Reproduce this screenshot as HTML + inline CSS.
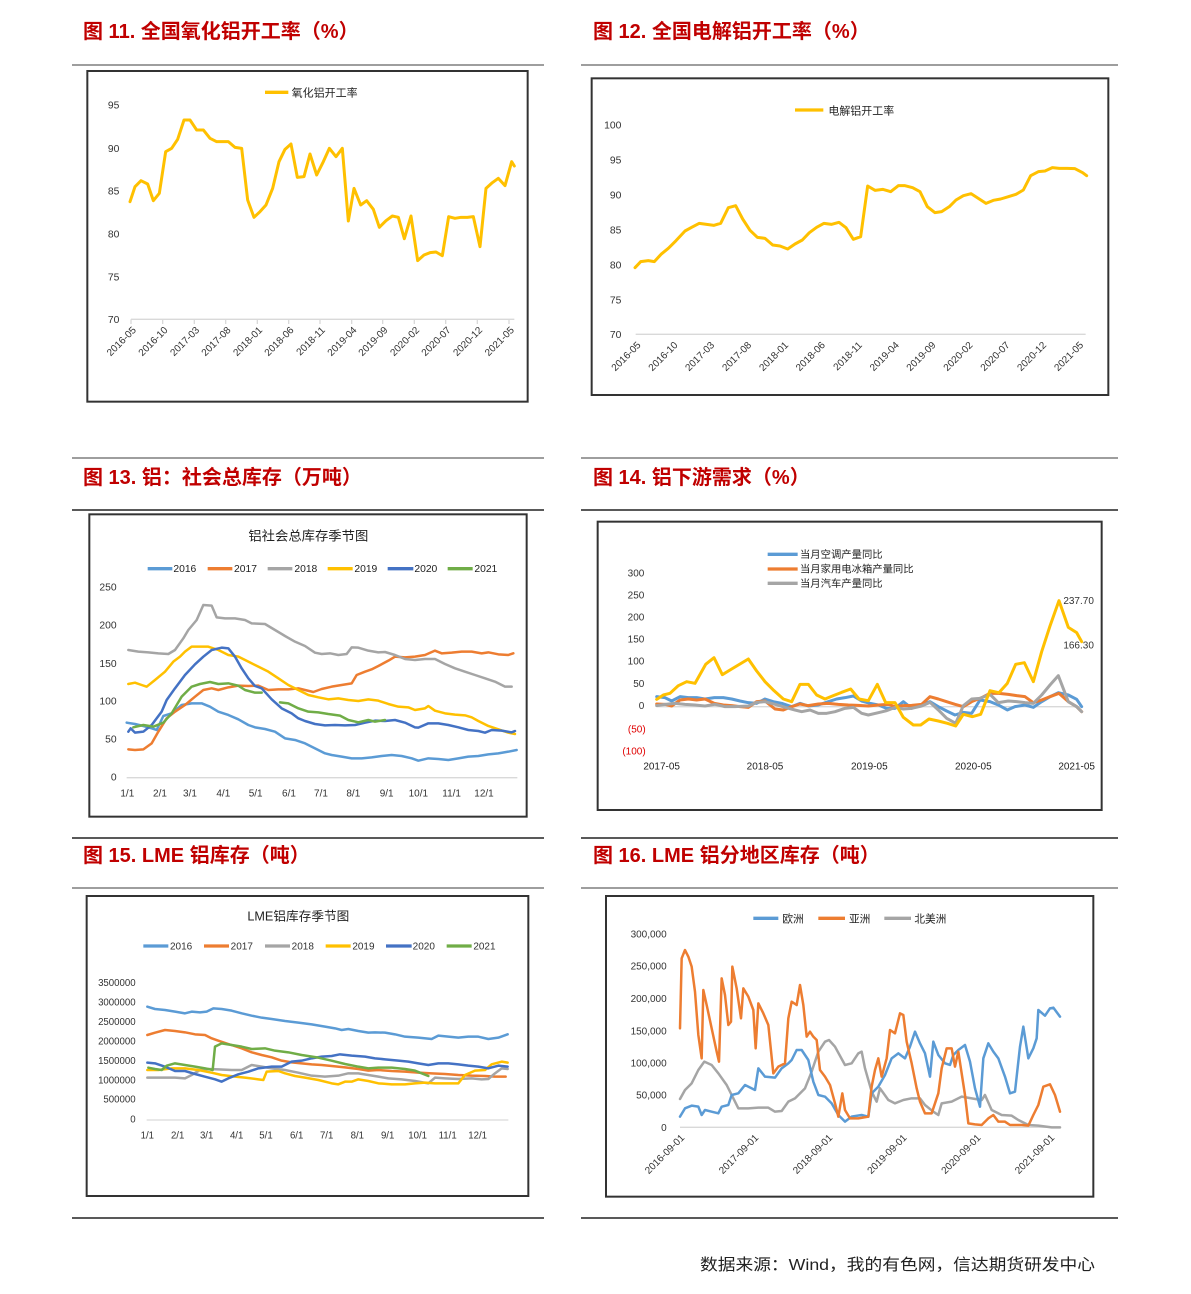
<!DOCTYPE html>
<html><head><meta charset="utf-8">
<style>
html,body{margin:0;padding:0;background:#fff;}
svg{display:block;}
.t{font-family:"Liberation Sans","Noto Sans CJK SC",sans-serif;font-weight:bold;fill:#c00000;font-size:20px;}
.n{font-family:"Liberation Sans","Noto Sans CJK SC",sans-serif;fill:#333;}
.c{font-family:"Liberation Sans","Noto Sans CJK SC",sans-serif;fill:#222;}
polyline{fill:none;stroke-linejoin:round;stroke-linecap:round;}
.s{vector-effect:non-scaling-stroke;}
</style></head>
<body>
<svg width="1191" height="1294" viewBox="0 0 1191 1294" xmlns="http://www.w3.org/2000/svg">
<!-- rules -->
<g stroke-width="1.5">
<line x1="72" y1="65" x2="544" y2="65" stroke="#7f7f7f"/>
<line x1="581" y1="65" x2="1118" y2="65" stroke="#7f7f7f"/>
<line x1="72" y1="458" x2="544" y2="458" stroke="#7f7f7f"/>
<line x1="581" y1="458" x2="1118" y2="458" stroke="#7f7f7f"/>
<line x1="72" y1="510" x2="544" y2="510" stroke="#222"/>
<line x1="581" y1="510" x2="1118" y2="510" stroke="#222"/>
<line x1="72" y1="838" x2="544" y2="838" stroke="#222"/>
<line x1="581" y1="838" x2="1118" y2="838" stroke="#222"/>
<line x1="72" y1="888" x2="544" y2="888" stroke="#7f7f7f"/>
<line x1="581" y1="888" x2="1118" y2="888" stroke="#7f7f7f"/>
<line x1="72" y1="1218" x2="544" y2="1218" stroke="#222"/>
<line x1="581" y1="1218" x2="1118" y2="1218" stroke="#222"/>
</g>
<!-- titles -->
<text class="t" x="83" y="38">图 11. 全国氧化铝开工率（%）</text>
<text class="t" x="593" y="38">图 12. 全国电解铝开工率（%）</text>
<text class="t" x="83" y="484">图 13. 铝：社会总库存（万吨）</text>
<text class="t" x="593" y="484">图 14. 铝下游需求（%）</text>
<text class="t" x="83" y="862">图 15.  LME 铝库存（吨）</text>
<text class="t" x="593" y="862">图 16. LME 铝分地区库存（吨）</text>
<text class="c" x="700" y="1270" font-size="16" textLength="395" lengthAdjust="spacingAndGlyphs">数据来源：Wind，我的有色网，信达期货研发中心</text>

<!-- CHART 11 -->
<g transform="translate(80,60) scale(0.33333)">
<rect x="22" y="33" width="1321" height="992" fill="none" stroke="#333" stroke-width="6"/>
<g class="n" font-size="31" text-anchor="end">
<text x="118" y="146">95</text><text x="118" y="276">90</text><text x="118" y="404">85</text><text x="118" y="533">80</text><text x="118" y="661">75</text><text x="118" y="789">70</text>
</g>
<line x1="153" y1="778" x2="1303" y2="778" stroke="#d9d9d9" stroke-width="4"/>
<g stroke="#d9d9d9" stroke-width="4">
<line x1="153" y1="778" x2="153" y2="792"/><line x1="248" y1="778" x2="248" y2="792"/><line x1="343" y1="778" x2="343" y2="792"/><line x1="437" y1="778" x2="437" y2="792"/><line x1="532" y1="778" x2="532" y2="792"/><line x1="626" y1="778" x2="626" y2="792"/><line x1="720" y1="778" x2="720" y2="792"/><line x1="815" y1="778" x2="815" y2="792"/><line x1="908" y1="778" x2="908" y2="792"/><line x1="1003" y1="778" x2="1003" y2="792"/><line x1="1097" y1="778" x2="1097" y2="792"/><line x1="1192" y1="778" x2="1192" y2="792"/><line x1="1287" y1="778" x2="1287" y2="792"/>
</g>
<g class="n" font-size="30" text-anchor="end">
<text transform="translate(170,812) rotate(-45)">2016-05</text>
<text transform="translate(265,812) rotate(-45)">2016-10</text>
<text transform="translate(360,812) rotate(-45)">2017-03</text>
<text transform="translate(454,812) rotate(-45)">2017-08</text>
<text transform="translate(549,812) rotate(-45)">2018-01</text>
<text transform="translate(643,812) rotate(-45)">2018-06</text>
<text transform="translate(737,812) rotate(-45)">2018-11</text>
<text transform="translate(832,812) rotate(-45)">2019-04</text>
<text transform="translate(925,812) rotate(-45)">2019-09</text>
<text transform="translate(1020,812) rotate(-45)">2020-02</text>
<text transform="translate(1114,812) rotate(-45)">2020-07</text>
<text transform="translate(1209,812) rotate(-45)">2020-12</text>
<text transform="translate(1304,812) rotate(-45)">2021-05</text>
</g>
<line x1="555" y1="97" x2="625" y2="97" stroke="#ffc000" stroke-width="10"/>
<text class="c" x="635" y="110" font-size="33">氧化铝开工率</text>
<polyline class="s" stroke="#ffc000" stroke-width="3" points="150,425 165,380 183,362 203,372 220,422 238,400 257,275 275,265 293,238 312,180 330,180 350,210 370,210 390,235 410,245 445,245 465,262 485,265 503,420 522,472 540,455 558,435 578,385 597,305 615,268 633,252 652,352 672,350 690,282 710,345 730,305 748,265 768,290 787,265 805,483 822,385 842,435 860,422 880,448 898,502 918,482 937,468 955,472 973,536 993,468 1013,602 1032,585 1050,578 1068,576 1087,587 1106,470 1125,475 1143,472 1162,472 1180,470 1200,560 1218,385 1237,368 1255,355 1275,377 1295,305 1303,318"/>
</g>

<!-- CHART 12 -->
<g transform="translate(590,75) scale(0.33333)">
<rect x="5" y="10" width="1550" height="950" fill="none" stroke="#333" stroke-width="6"/>
<g class="n" font-size="31" text-anchor="end">
<text x="94" y="161">100</text><text x="94" y="266">95</text><text x="94" y="371">90</text><text x="94" y="476">85</text><text x="94" y="581">80</text><text x="94" y="686">75</text><text x="94" y="789">70</text>
</g>
<line x1="137" y1="778" x2="1487" y2="778" stroke="#d9d9d9" stroke-width="4"/>
<g class="n" font-size="30" text-anchor="end">
<text transform="translate(154,812) rotate(-45)">2016-05</text>
<text transform="translate(265,812) rotate(-45)">2016-10</text>
<text transform="translate(375,812) rotate(-45)">2017-03</text>
<text transform="translate(486,812) rotate(-45)">2017-08</text>
<text transform="translate(597,812) rotate(-45)">2018-01</text>
<text transform="translate(707,812) rotate(-45)">2018-06</text>
<text transform="translate(818,812) rotate(-45)">2018-11</text>
<text transform="translate(929,812) rotate(-45)">2019-04</text>
<text transform="translate(1039,812) rotate(-45)">2019-09</text>
<text transform="translate(1150,812) rotate(-45)">2020-02</text>
<text transform="translate(1261,812) rotate(-45)">2020-07</text>
<text transform="translate(1371,812) rotate(-45)">2020-12</text>
<text transform="translate(1482,812) rotate(-45)">2021-05</text>
</g>
<line x1="615" y1="105" x2="700" y2="105" stroke="#ffc000" stroke-width="10"/>
<text class="c" x="715" y="118" font-size="33">电解铝开工率</text>
<polyline class="s" stroke="#ffc000" stroke-width="3" points="135,578 152,560 175,557 193,560 213,538 235,520 258,497 285,468 305,457 328,445 350,448 372,451 392,445 415,398 437,392 458,432 480,466 502,487 525,490 548,510 570,513 593,522 615,507 637,495 658,473 680,457 702,445 725,448 747,442 768,458 790,493 812,485 833,333 855,346 878,343 902,350 925,332 945,332 968,338 990,350 1012,395 1035,413 1055,410 1078,395 1098,375 1120,362 1143,356 1165,370 1188,385 1210,376 1232,372 1255,365 1278,358 1300,345 1322,302 1345,290 1365,288 1387,278 1408,280 1432,280 1455,281 1478,293 1490,302"/>
</g>

<!-- CHART 13 -->
<g transform="translate(85,510) scale(0.33333)">
<rect x="13" y="13" width="1312" height="907" fill="none" stroke="#333" stroke-width="6"/>
<text class="c" x="670" y="92" font-size="40" text-anchor="middle">铝社会总库存季节图</text>
<g stroke-width="10">
<line x1="188" y1="176" x2="262" y2="176" stroke="#5b9bd5"/>
<line x1="368" y1="176" x2="442" y2="176" stroke="#ed7d31"/>
<line x1="548" y1="176" x2="622" y2="176" stroke="#a5a5a5"/>
<line x1="728" y1="176" x2="803" y2="176" stroke="#ffc000"/>
<line x1="908" y1="176" x2="985" y2="176" stroke="#4472c4"/>
<line x1="1088" y1="176" x2="1163" y2="176" stroke="#70ad47"/>
</g>
<g class="c" font-size="31">
<text x="265" y="186">2016</text><text x="447" y="186">2017</text><text x="628" y="186">2018</text><text x="808" y="186">2019</text><text x="988" y="186">2020</text><text x="1168" y="186">2021</text>
</g>
<g class="n" font-size="31" text-anchor="end">
<text x="95" y="241">250</text><text x="95" y="356">200</text><text x="95" y="471">150</text><text x="95" y="584">100</text><text x="95" y="698">50</text><text x="95" y="811">0</text>
</g>
<line x1="125" y1="803" x2="1297" y2="803" stroke="#d9d9d9" stroke-width="4"/>
<g class="n" font-size="30" text-anchor="middle">
<text x="127" y="860">1/1</text><text x="225" y="860">2/1</text><text x="315" y="860">3/1</text><text x="415" y="860">4/1</text><text x="512" y="860">5/1</text><text x="612" y="860">6/1</text><text x="708" y="860">7/1</text><text x="805" y="860">8/1</text><text x="905" y="860">9/1</text><text x="1000" y="860">10/1</text><text x="1100" y="860">11/1</text><text x="1197" y="860">12/1</text>
</g>
<polyline class="s" stroke="#5b9bd5" stroke-width="2.5" points="125,638 150,642 175,648 200,655 215,660 235,618 260,610 290,585 320,580 350,580 375,590 400,605 430,615 460,628 490,645 510,652 540,657 570,665 600,685 630,690 660,700 690,715 720,730 740,735 770,740 800,745 830,745 860,742 890,738 920,735 950,738 980,745 1000,752 1030,745 1060,747 1090,750 1120,745 1150,740 1180,738 1210,733 1240,730 1270,725 1295,720"/>
<polyline class="s" stroke="#ed7d31" stroke-width="2.5" points="130,718 150,720 175,718 200,700 220,665 245,625 270,605 300,585 330,560 355,540 380,535 400,540 430,532 460,527 490,528 520,527 550,540 580,538 610,538 640,535 660,540 685,546 710,537 740,530 770,525 800,520 815,495 840,485 860,478 880,468 910,452 930,440 960,442 990,440 1020,435 1050,422 1070,430 1100,428 1130,425 1160,425 1190,430 1210,427 1240,433 1270,435 1285,430"/>
<polyline class="s" stroke="#a5a5a5" stroke-width="2.5" points="130,420 160,425 190,427 220,430 250,432 270,420 295,385 310,360 335,330 355,285 380,287 395,322 420,325 450,325 480,330 500,340 540,342 570,360 600,378 630,395 660,408 690,428 710,432 735,430 760,435 785,432 800,412 820,413 850,422 880,427 900,426 930,435 960,447 990,450 1020,447 1050,447 1080,462 1110,475 1140,485 1170,495 1200,505 1230,515 1260,530 1280,530"/>
<polyline class="s" stroke="#ffc000" stroke-width="2.5" points="130,522 150,518 170,525 185,530 210,510 240,485 265,455 285,440 300,425 320,410 345,410 370,410 400,420 430,435 460,440 490,455 520,470 550,485 580,505 610,525 640,540 670,555 700,562 730,568 760,565 790,570 820,573 850,568 880,572 910,582 940,590 970,592 990,600 1020,595 1030,588 1050,602 1080,610 1110,614 1140,616 1160,622 1180,633 1210,648 1240,658 1270,668 1290,672"/>
<polyline class="s" stroke="#4472c4" stroke-width="2.5" points="130,665 137,655 150,668 175,665 200,645 230,605 245,570 270,535 300,495 330,463 355,440 380,420 410,413 430,415 450,440 470,475 490,505 510,528 530,535 560,568 590,595 620,610 640,625 660,633 690,642 720,646 750,645 780,646 810,645 840,638 870,632 900,633 930,630 960,638 990,652 1000,653 1030,640 1060,640 1090,645 1120,652 1150,660 1180,663 1200,668 1220,660 1250,662 1280,667 1290,663"/>
<polyline class="s" stroke="#70ad47" stroke-width="2.5" points="145,652 175,645 205,650 235,638 260,610 290,560 320,530 345,522 375,516 400,522 430,520 460,527 480,540 510,548 530,548"/>
<polyline class="s" stroke="#70ad47" stroke-width="2.5" points="585,577 610,580 640,595 670,605 700,607 730,612 765,617 790,630 820,637 850,630 870,635 900,630"/>
</g>

<!-- CHART 14 -->
<g transform="translate(595,520) scale(0.33333)">
<rect x="8" y="5" width="1512" height="865" fill="none" stroke="#333" stroke-width="6"/>
<g stroke-width="10">
<line x1="518" y1="103" x2="608" y2="103" stroke="#5b9bd5"/>
<line x1="518" y1="147" x2="608" y2="147" stroke="#ed7d31"/>
<line x1="518" y1="190" x2="608" y2="190" stroke="#a5a5a5"/>
</g>
<g class="c" font-size="31">
<text x="615" y="114">当月空调产量同比</text>
<text x="615" y="158">当月家用电冰箱产量同比</text>
<text x="615" y="201">当月汽车产量同比</text>
</g>
<g class="n" font-size="30" text-anchor="end" fill="#595959">
<text x="148" y="169">300</text><text x="148" y="236">250</text><text x="148" y="302">200</text><text x="148" y="368">150</text><text x="148" y="434">100</text><text x="148" y="501">50</text><text x="148" y="567">0</text>
<text x="152" y="637" fill="#e00000">(50)</text><text x="152" y="703" fill="#e00000">(100)</text>
</g>
<line x1="185" y1="560" x2="1460" y2="560" stroke="#d9d9d9" stroke-width="4"/>
<g class="c" font-size="30" text-anchor="middle">
<text x="200" y="748">2017-05</text><text x="510" y="748">2018-05</text><text x="823" y="748">2019-05</text><text x="1135" y="748">2020-05</text><text x="1445" y="748">2021-05</text>
</g>
<polyline class="s" stroke="#5b9bd5" stroke-width="3" points="185,530 210,533 230,543 255,530 280,533 305,533 330,537 358,533 385,533 410,537 435,543 460,548 485,550 510,537 535,545 560,550 590,560 615,550 640,558 670,555 700,545 725,537 750,533 775,528 800,543 825,550 850,555 875,565 900,565 925,545 950,565 980,555 1005,545 1030,560 1055,573 1080,585 1105,577 1130,580 1155,540 1185,545 1210,555 1237,570 1260,560 1290,555 1315,562 1340,545 1365,530 1390,518 1420,525 1445,538 1460,560"/>
<polyline class="s" stroke="#ed7d31" stroke-width="3" points="185,552 210,553 230,558 255,540 280,537 305,540 330,537 358,550 385,555 410,557 435,560 460,562 485,545 510,543 540,567 565,570 590,560 615,552 640,557 670,552 700,550 730,553 760,555 790,556 820,558 850,555 880,553 900,560 925,557 950,556 980,553 1005,530 1030,537 1055,545 1080,553 1105,560 1130,545 1160,533 1185,520 1212,520 1240,523 1265,527 1290,530 1315,548 1340,540 1365,530 1392,520 1420,545 1445,560 1460,575"/>
<polyline class="s" stroke="#a5a5a5" stroke-width="3" points="185,557 210,553 240,550 270,553 300,555 330,558 360,553 390,560 420,560 460,558 485,547 510,545 540,553 570,562 600,570 620,575 645,570 670,580 695,580 720,575 750,565 775,562 800,580 820,585 850,578 875,572 900,562 925,567 950,565 980,558 1005,547 1030,570 1055,595 1082,610 1105,557 1130,537 1155,535 1185,523 1210,548 1240,543 1265,545 1290,548 1315,550 1340,525 1365,495 1390,467 1420,545 1445,560 1460,575"/>
<polyline class="s" stroke="#ffc000" stroke-width="3" points="185,538 205,525 225,520 250,497 275,485 300,490 332,433 357,413 382,464 410,447 435,432 460,417 485,453 510,485 537,512 565,537 590,545 615,493 640,493 665,525 690,537 715,527 740,517 767,507 792,537 820,542 847,493 872,548 900,548 925,592 955,615 977,615 1002,597 1030,603 1057,610 1082,618 1105,583 1132,590 1157,583 1185,512 1212,518 1237,490 1262,433 1288,428 1315,485 1340,395 1365,318 1392,242 1420,322 1445,338 1460,365"/>
<g class="n" font-size="30" fill="#595959">
<text x="1405" y="252">237.70</text><text x="1405" y="385">166.30</text>
</g>
</g>

<!-- CHART 15 -->
<g transform="translate(85,895) scale(0.33333)">
<rect x="5" y="3" width="1325" height="900" fill="none" stroke="#333" stroke-width="6"/>
<text class="c" x="640" y="77" font-size="38" text-anchor="middle">LME铝库存季节图</text>
<g stroke-width="10">
<line x1="175" y1="153" x2="250" y2="153" stroke="#5b9bd5"/>
<line x1="357" y1="153" x2="432" y2="153" stroke="#ed7d31"/>
<line x1="540" y1="153" x2="615" y2="153" stroke="#a5a5a5"/>
<line x1="722" y1="153" x2="797" y2="153" stroke="#ffc000"/>
<line x1="903" y1="153" x2="980" y2="153" stroke="#4472c4"/>
<line x1="1085" y1="153" x2="1160" y2="153" stroke="#70ad47"/>
</g>
<g class="n" font-size="30" fill="#595959">
<text x="255" y="164">2016</text><text x="437" y="164">2017</text><text x="620" y="164">2018</text><text x="802" y="164">2019</text><text x="983" y="164">2020</text><text x="1165" y="164">2021</text>
</g>
<g class="n" font-size="29" text-anchor="end">
<text x="152" y="273">3500000</text><text x="152" y="332">3000000</text><text x="152" y="390">2500000</text><text x="152" y="448">2000000</text><text x="152" y="507">1500000</text><text x="152" y="565">1000000</text><text x="152" y="623">500000</text><text x="152" y="682">0</text>
</g>
<line x1="185" y1="675" x2="1270" y2="675" stroke="#d9d9d9" stroke-width="4"/>
<g class="n" font-size="29" text-anchor="middle">
<text x="187" y="730">1/1</text><text x="278" y="730">2/1</text><text x="365" y="730">3/1</text><text x="455" y="730">4/1</text><text x="543" y="730">5/1</text><text x="635" y="730">6/1</text><text x="725" y="730">7/1</text><text x="817" y="730">8/1</text><text x="908" y="730">9/1</text><text x="998" y="730">10/1</text><text x="1088" y="730">11/1</text><text x="1178" y="730">12/1</text>
</g>
<polyline class="s" stroke="#5b9bd5" stroke-width="2.5" points="187,335 210,342 240,345 270,350 300,355 320,350 345,352 365,350 385,340 410,342 440,347 470,355 500,362 530,368 560,372 600,378 640,383 680,388 720,395 750,400 770,405 790,402 820,408 850,413 870,412 900,413 930,418 960,425 1000,428 1040,432 1060,422 1090,425 1120,428 1150,425 1180,425 1210,432 1240,428 1268,418"/>
<polyline class="s" stroke="#ed7d31" stroke-width="2.5" points="187,420 210,413 240,405 270,408 300,412 330,418 360,420 380,430 400,437 430,447 470,460 500,472 530,480 560,487 590,497 620,502 650,505 680,508 710,510 740,513 780,517 820,522 850,527 880,525 920,528 960,530 1000,533 1040,535 1080,537 1120,540 1160,542 1200,543 1230,545 1262,545"/>
<polyline class="s" stroke="#a5a5a5" stroke-width="2.5" points="187,548 230,548 270,548 300,550 320,540 345,525 370,522 400,523 440,525 470,525 500,510 530,515 560,520 600,525 640,533 680,542 720,545 760,542 790,535 820,535 850,540 880,545 910,550 950,553 990,558 1030,565 1050,548 1080,550 1120,552 1160,550 1190,553 1210,552 1230,535 1250,520 1268,522"/>
<polyline class="s" stroke="#ffc000" stroke-width="2.5" points="187,525 220,525 260,520 300,520 340,525 380,533 410,540 450,545 480,548 520,553 535,555 545,530 580,528 600,535 630,543 660,548 700,555 740,565 760,568 780,560 800,560 820,553 850,558 880,565 920,568 960,568 990,565 1020,563 1050,565 1080,565 1120,565 1140,540 1170,527 1200,525 1220,508 1250,500 1268,503"/>
<polyline class="s" stroke="#4472c4" stroke-width="2.5" points="187,503 210,505 240,515 270,528 300,528 330,537 360,545 390,553 410,560 430,550 460,538 490,530 520,520 560,515 590,515 620,500 650,497 680,490 710,485 740,483 765,478 800,482 840,485 870,490 900,493 940,497 970,500 1000,505 1030,510 1060,505 1090,505 1120,508 1150,512 1180,515 1210,520 1240,512 1268,515"/>
<polyline class="s" stroke="#70ad47" stroke-width="2.5" points="190,518 210,522 230,525 245,512 270,505 300,510 330,515 360,520 383,525 390,455 410,445 440,450 470,455 500,462 540,460 570,467 610,472 650,480 700,488 740,497 780,507 820,515 850,520 880,518 920,518 960,522 990,527 1010,535 1030,543"/>
</g>

<!-- CHART 16 -->
<g transform="translate(605,895) scale(0.33333)">
<rect x="3" y="3" width="1462" height="902" fill="none" stroke="#333" stroke-width="6"/>
<g stroke-width="10">
<line x1="445" y1="70" x2="520" y2="70" stroke="#5b9bd5"/>
<line x1="640" y1="70" x2="720" y2="70" stroke="#ed7d31"/>
<line x1="838" y1="70" x2="918" y2="70" stroke="#a5a5a5"/>
</g>
<g class="c" font-size="32">
<text x="532" y="82">欧洲</text><text x="732" y="82">亚洲</text><text x="928" y="82">北美洲</text>
</g>
<g class="n" font-size="30" text-anchor="end">
<text x="185" y="128">300,000</text><text x="185" y="224">250,000</text><text x="185" y="321">200,000</text><text x="185" y="418">150,000</text><text x="185" y="514">100,000</text><text x="185" y="611">50,000</text><text x="185" y="708">0</text>
</g>
<line x1="225" y1="697" x2="1365" y2="697" stroke="#d9d9d9" stroke-width="4"/>
<g class="n" font-size="30" text-anchor="end">
<text transform="translate(240,730) rotate(-45)">2016-09-01</text>
<text transform="translate(462,730) rotate(-45)">2017-09-01</text>
<text transform="translate(684,730) rotate(-45)">2018-09-01</text>
<text transform="translate(907,730) rotate(-45)">2019-09-01</text>
<text transform="translate(1129,730) rotate(-45)">2020-09-01</text>
<text transform="translate(1350,730) rotate(-45)">2021-09-01</text>
</g>
<polyline class="s" stroke="#a5a5a5" stroke-width="2.5" points="225,612 240,585 260,565 280,525 298,500 320,510 340,535 365,570 385,610 400,640 430,640 460,638 490,638 510,650 530,648 550,620 570,610 600,580 620,530 640,470 660,440 672,435 690,455 720,510 740,505 760,475 770,470 780,520 800,590 815,620 825,580 850,615 870,625 895,615 920,610 945,610 960,630 985,650 1000,660 1010,625 1040,620 1070,605 1100,610 1130,615 1140,600 1160,645 1190,660 1220,662 1240,675 1270,690 1300,692 1340,697 1365,697"/>
<polyline class="s" stroke="#5b9bd5" stroke-width="2.5" points="225,665 240,640 260,632 280,635 290,660 300,645 320,650 340,655 350,635 370,630 380,600 400,595 420,570 450,585 460,520 480,545 510,548 530,520 550,505 560,495 575,465 590,465 610,495 625,560 640,600 660,605 680,625 700,660 720,680 740,665 770,660 790,665 800,595 820,575 840,540 860,490 880,475 900,490 915,455 930,410 945,445 960,475 975,545 985,440 1000,480 1020,505 1035,510 1045,480 1060,465 1080,450 1095,500 1110,580 1125,635 1135,490 1150,445 1165,470 1180,490 1200,545 1215,595 1230,590 1245,455 1255,395 1270,490 1285,460 1295,430 1300,345 1320,362 1335,340 1345,338 1365,365"/>
<polyline class="s" stroke="#ed7d31" stroke-width="2.5" points="225,400 230,190 240,165 250,185 260,215 270,290 280,420 290,490 295,285 305,330 320,400 335,470 342,500 350,250 360,300 370,390 378,380 382,215 395,280 408,370 415,280 430,305 445,345 452,460 460,325 475,355 490,390 505,535 520,515 540,505 550,370 560,320 575,330 585,270 595,330 605,425 615,410 625,425 635,435 645,525 660,545 675,570 690,625 700,665 712,595 720,645 735,670 760,670 790,665 800,575 810,525 820,490 830,545 845,490 855,405 870,415 885,355 895,360 905,440 920,505 935,580 945,620 960,655 980,655 990,625 1000,595 1010,520 1025,460 1040,460 1050,515 1060,470 1080,600 1090,685 1110,688 1130,690 1150,670 1165,660 1180,680 1200,680 1215,690 1250,690 1270,692 1285,660 1300,630 1315,575 1335,568 1350,600 1365,650"/>
</g>
</svg>
</body></html>
